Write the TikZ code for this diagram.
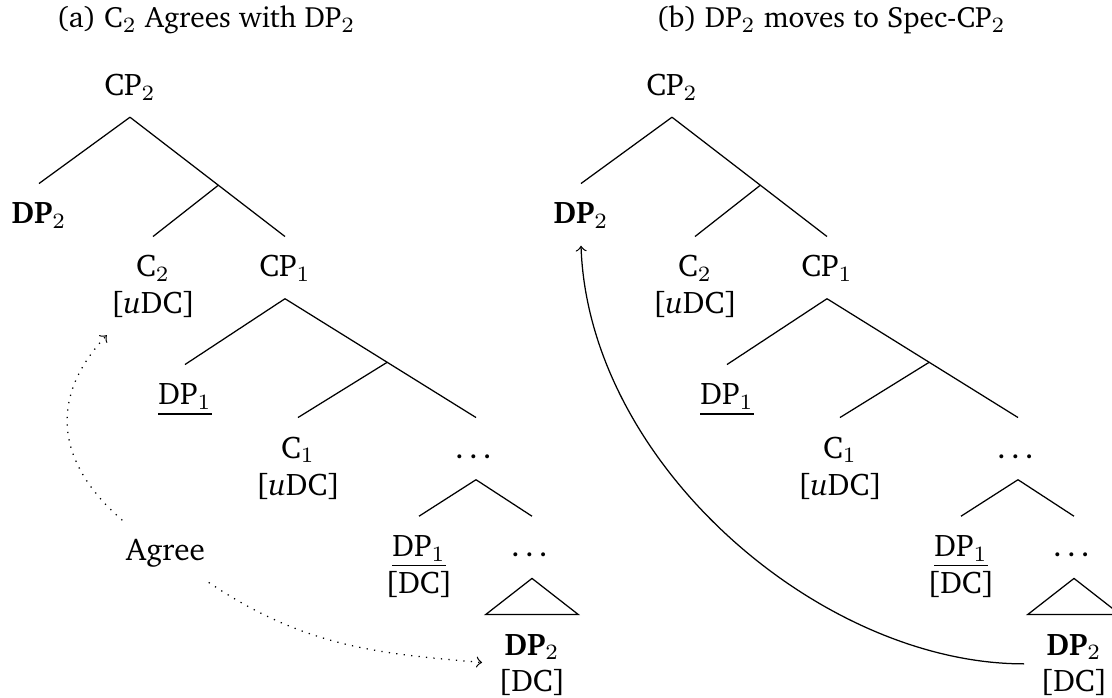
\documentclass[tikz,border=0pt]{standalone}
\usepackage[T1]{fontenc}
\usepackage{charter}
\usepackage{tikz}
\usetikzlibrary{calc}
\newcommand{\cptree}[2]{%   #1: x offset, #2: name prefix
  \node[lab] (#2cp2) at ({#1+130},95.5) {CP$_2$};
  \node[lab] (#2dp2) at ({#1+39},224) {\textbf{DP}$_2$};
  \node[lab] (#2c2)  at ({#1+153},277) {C$_2$};
  \node[lab] (#2c2f) at ({#1+153},313.5) {[\textit{u}DC]};
  \node[lab] (#2cp1) at ({#1+285},277) {CP$_1$};
  \node[lab] (#2dp1) at ({#1+185},405) {\underline{DP$_1$}};
  \node[lab] (#2c1)  at ({#1+298},458) {C$_1$};
  \node[lab] (#2c1f) at ({#1+298},495) {[\textit{u}DC]};
  \node[lab] (#2dtsA) at ({#1+476},458) {\dots};
  \node[lab] (#2dpl)  at ({#1+419},556.7) {\underline{DP$_1$}};
  \node[lab] (#2dplf) at ({#1+419},593) {[DC]};
  \node[lab] (#2dtsB) at ({#1+532},556.7) {\dots};
  \node[lab] (#2dpb)  at ({#1+532},655) {\textbf{DP}$_2$};
  \node[lab] (#2dpbf) at ({#1+532},691.5) {[DC]};
  \coordinate (#2cbar)  at ($(#2cp2.south)!0.57!(#2cp1.north)$);
  \coordinate (#2c1bar) at ($(#2cp1.south)!0.535!(#2dtsA.north)$);
  \draw (#2cp2.south) -- (#2dp2.north);
  \draw (#2cp2.south) -- (#2cp1.north);
  \draw (#2cbar) -- (#2c2.north);
  \draw (#2cp1.south) -- (#2dp1.north);
  \draw (#2cp1.south) -- (#2dtsA.north);
  \draw (#2c1bar) -- (#2c1.north);
  \draw (#2dtsA.south) -- (#2dpl.north);
  \draw (#2dtsA.south) -- (#2dtsB.north);
  \draw (#2dtsB.south) -- ($(#2dpb.north)+(-46.3,0)$)
     -- ($(#2dpb.north)+(46.3,0)$) -- cycle;}

\begin{document}
\begin{tikzpicture}[x=0.32pt, y=-0.32pt,
    lab/.style={anchor=base, inner xsep=1pt, inner ysep=4.75pt,
      text height=8pt, text depth=2pt},
    ttl/.style={anchor=base, font=\fontsize{9.4}{11}\selectfont},
    agr/.style={->, dotted}]
\useasboundingbox (0,0) rectangle (1112,698);

% ---- titles
\node[ttl] (ta) at (206,28) {(a) C$_2$ Agrees with DP$_2$};
\node[ttl] (tb) at (831,28) {(b) DP$_2$ moves to Spec-CP$_2$};

% ---- the two trees
\cptree{0}{a}
\cptree{542}{b}

% ---- Agree
\node[lab] (agree) at (165.5,560.7) {Agree};
\draw[agr] (agree.north west) to[out=139,in=-133,looseness=1.2] (ac2f.south west);
\draw[agr, shorten >=5pt] (agree.south east) to[out=-34,in=175]
  ($(adpb.west)!0.5!(adpbf.west)$);

% ---- movement
\draw[->, shorten <=5pt] ($(bdpb.west)!0.5!(bdpbf.west)$)
  to[out=180,in=-88,looseness=0.9] (bdp2.south);
\end{tikzpicture}
\end{document}
